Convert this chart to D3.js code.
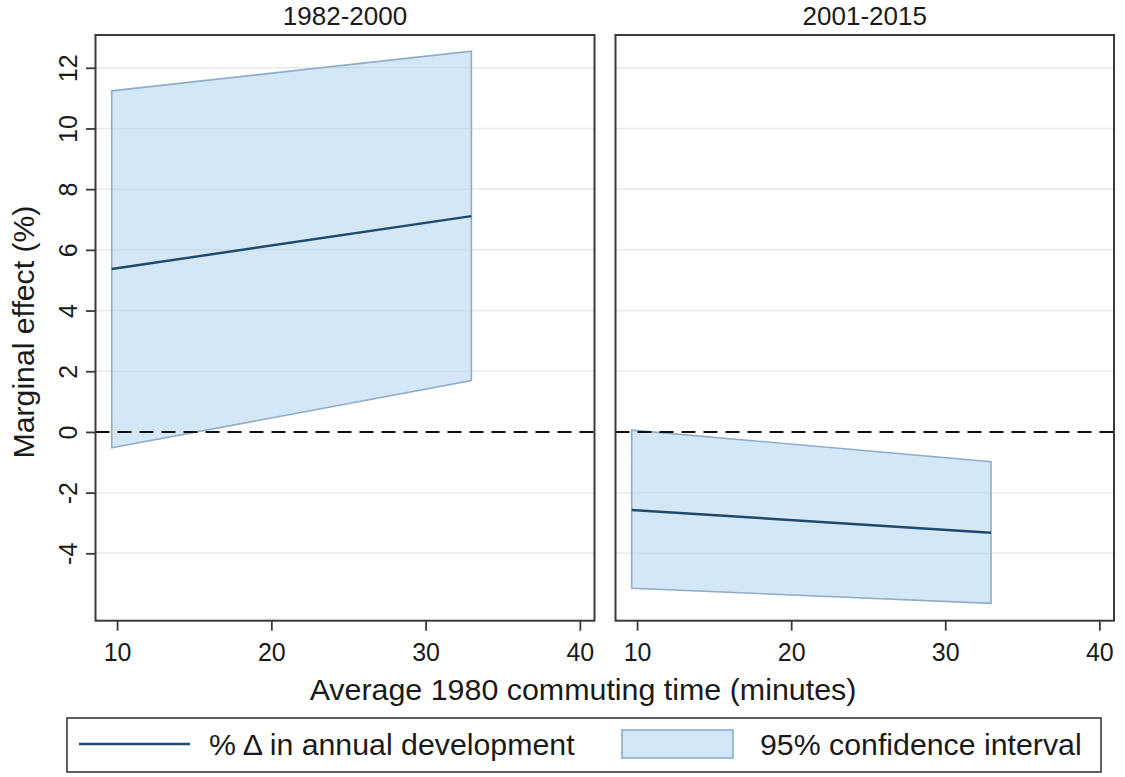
<!DOCTYPE html>
<html><head><meta charset="utf-8">
<script src="https://cdn.jsdelivr.net/npm/d3@7"></script>
<style>body{margin:0;background:#fff}svg{display:block}text{font-family:"Liberation Sans",Arial,sans-serif;fill:#1a1a1a}</style>
</head><body>
<script>
const panelTitles = ["1982-2000", "2001-2015"];
const xValues = [9.65, 32.97];
const estimate = [[5.37, 7.11], [-2.57, -3.32]];
const ciLower = [[-0.52, 1.69], [-5.15, -5.65]];
const ciUpper = [[11.24, 12.55], [0.06, -0.98]];
const xTicks = [10, 20, 30, 40];
const yTicks = [-4, -2, 0, 2, 4, 6, 8, 10, 12];
const xTitle = "Average 1980 commuting time (minutes)";
const yTitle = "Marginal effect (%)";
const legendLabels = ["% \u0394 in annual development", "95% confidence interval"];

(function () {
const W = 1125, H = 777;
const svg = d3.select("body").append("svg").attr("width", W).attr("height", H);
const lineColor = "#1f4a70", fillColor = "rgba(170,208,238,0.5)", bandStroke = "#8eadc8";
const panels = [{l: 95.5, r: 594.5}, {l: 615.5, r: 1114}];
const pTop = 35, pBottom = 620.7;
const y = d3.scaleLinear().domain([-6.22, 13.08]).range([pBottom, pTop]);
const fmt = d => String(d);

panels.forEach((p, i) => {
  const x = d3.scaleLinear().domain([8.6, 40.95]).range([p.l, p.r]);
  const g = svg.append("g");
  g.selectAll(".grid").data(yTicks.filter(t => t !== 0)).enter().append("line")
    .attr("x1", p.l).attr("x2", p.r).attr("y1", d => y(d)).attr("y2", d => y(d))
    .attr("stroke", "#e9e9e9").attr("stroke-width", 1.5);
  const pts = xValues.map((xv, k) => ({x: xv, lo: ciLower[i][k], hi: ciUpper[i][k], e: estimate[i][k]}));
  const area = d3.area().x(d => x(d.x)).y0(d => y(d.lo)).y1(d => y(d.hi));
  const ring = pts.map(d => [x(d.x), y(d.hi)]).concat(pts.slice().reverse().map(d => [x(d.x), y(d.lo)]));
  g.append("path").attr("d", area(pts)).attr("fill", fillColor).attr("stroke", "none");
  g.append("path").attr("d", "M" + ring.join("L") + "Z").attr("fill", "none")
    .attr("stroke", bandStroke).attr("stroke-width", 1.6);
  g.append("line").attr("x1", p.l).attr("x2", p.r).attr("y1", y(0)).attr("y2", y(0))
    .attr("stroke", "#111").attr("stroke-width", 2).attr("stroke-dasharray", "14,8");
  g.append("path").attr("d", d3.line().x(d => x(d.x)).y(d => y(d.e))(pts))
    .attr("fill", "none").attr("stroke", lineColor).attr("stroke-width", 2.4);
  g.append("rect").attr("x", p.l).attr("y", pTop).attr("width", p.r - p.l).attr("height", pBottom - pTop)
    .attr("fill", "none").attr("stroke", "#3a3a3a").attr("stroke-width", 2);
  const xa = g.append("g").attr("transform", `translate(0,${pBottom})`)
    .call(d3.axisBottom(x).tickValues(xTicks).tickSize(10).tickPadding(0).tickFormat(fmt));
  xa.select(".domain").remove();
  xa.selectAll(".tick line").attr("stroke", "#3a3a3a").attr("stroke-width", 1.8);
  xa.selectAll(".tick text").attr("font-size", 25).attr("dy", null).attr("y", 40)
    .attr("font-family", '"Liberation Sans",Arial,sans-serif').attr("fill", "#1a1a1a");
  g.append("text").attr("x", (p.l + p.r) / 2).attr("y", 25).attr("text-anchor", "middle")
    .attr("font-size", 26).text(panelTitles[i]);
  if (i === 0) {
    const ya = g.append("g").attr("transform", `translate(${p.l},0)`)
      .call(d3.axisLeft(y).tickValues(yTicks).tickSize(9.5).tickFormat(fmt));
    ya.select(".domain").remove();
    ya.selectAll(".tick line").attr("stroke", "#3a3a3a").attr("stroke-width", 1.8);
    ya.selectAll(".tick text").attr("font-size", 25).attr("x", null).attr("dy", null)
      .attr("text-anchor", "middle").attr("transform", "translate(-18.5,0) rotate(-90)")
      .attr("font-family", '"Liberation Sans",Arial,sans-serif').attr("fill", "#1a1a1a");
  }
});

svg.append("text").attr("x", 583).attr("y", 700).attr("text-anchor", "middle")
  .attr("font-size", 30.4).text(xTitle);
svg.append("text").attr("transform", `translate(34,332) rotate(-90)`).attr("text-anchor", "middle")
  .attr("font-size", 30.2).text(yTitle);

const lg = svg.append("g");
lg.append("rect").attr("x", 67).attr("y", 718).attr("width", 1034).attr("height", 54)
  .attr("fill", "#fff").attr("stroke", "#3a3a3a").attr("stroke-width", 1.6);
lg.append("line").attr("x1", 79).attr("x2", 190).attr("y1", 744).attr("y2", 744)
  .attr("stroke", lineColor).attr("stroke-width", 2.4);
lg.append("text").attr("x", 209).attr("y", 755).attr("font-size", 30.3).text(legendLabels[0]);
lg.append("rect").attr("x", 622).attr("y", 730).attr("width", 111).attr("height", 28)
  .attr("fill", fillColor).attr("stroke", bandStroke).attr("stroke-width", 1.6);
lg.append("text").attr("x", 760).attr("y", 755).attr("font-size", 30.3).text(legendLabels[1]);
})();
</script>
</body></html>
